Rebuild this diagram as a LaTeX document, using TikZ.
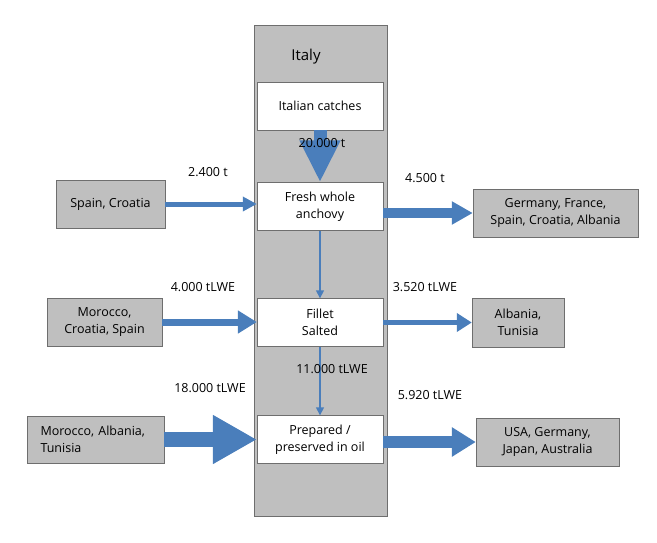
\documentclass[tikz,border=0pt]{standalone}
\usepackage{fontspec}
\setmainfont{Open Sans}
\usetikzlibrary{arrows.meta}

\definecolor{flowblue}{RGB}{74,126,187}
\definecolor{boxgray}{RGB}{191,191,191}
\definecolor{linegray}{RGB}{110,110,110}

\tikzset{
  country/.style={draw=linegray, fill=boxgray, align=center, inner sep=0pt},
  stage/.style={draw=linegray, fill=white, align=center, inner sep=0pt,
    minimum width=126, minimum height=48},
  qty/.style={inner sep=0pt}
}

\begin{document}
\begin{tikzpicture}[x=1pt, y=-1pt, font=\fontsize{12.5}{17}\selectfont]
\useasboundingbox (0,0) rectangle (657,542);

% Italy column
\node[draw=linegray, fill=boxgray, minimum width=133, minimum height=491,
  anchor=north west, inner sep=0pt] (italy) at (254,25) {};
\node[qty, font=\fontsize{15}{17}\selectfont] (italylbl) at (306,57) {Italy};

% Stages inside Italy
\node[stage] (catch) at (320,106) {Italian catches};
\node[stage] (fresh) at (320,206.5) {Fresh whole\\anchovy};
\node[stage] (fillet) at (320,322.5) {Fillet\\Salted};
\node[stage] (oil) at (320,439.5) {Prepared /\\preserved in oil};

% Importing countries (left)
\node[country, minimum width=109, minimum height=48] (inA) at (110.5,204) {Spain, Croatia};
\node[country, minimum width=115, minimum height=48] (inB) at (104.5,322) {Morocco,\\Croatia, Spain};
\node[country, minimum width=137, minimum height=47, align=left, text width=110] (inC) at (95.5,439.5) {Morocco, Albania,\\Tunisia};

% Destination countries (right)
\node[country, minimum width=165, minimum height=48] (outA) at (555.5,213) {Germany, France,\\Spain, Croatia, Albania};
\node[country, minimum width=92, minimum height=49] (outB) at (518,322.5) {Albania,\\Tunisia};
\node[country, minimum width=143, minimum height=48] (outC) at (547.5,442) {USA, Germany,\\Japan, Australia};

% Flows along the chain
\draw[flowblue, line width=13, -{Triangle[width=38,length=42]}] (catch.south) -- (fresh.north);
\draw[flowblue, line width=1.5, -{Triangle[width=8,length=8]}] (fresh.south) -- (fillet.north);
\draw[flowblue, line width=1.5, -{Triangle[width=8,length=8]}] (fillet.south) -- (oil.north);

% Imports
\draw[flowblue, line width=5, -{Triangle[width=14,length=14]}] (inA.east) -- (inA.east -| fresh.west);
\draw[flowblue, line width=7, -{Triangle[width=22,length=19]}] (inB.east) -- (inB.east -| fillet.west);
\draw[flowblue, line width=15, -{Triangle[width=46,length=44]}] (inC.east) -- (inC.east -| oil.west);

% Exports
\draw[flowblue, line width=10, -{Triangle[width=22,length=21]}] (outA.west -| fresh.east) -- (outA.west);
\draw[flowblue, line width=5, -{Triangle[width=18,length=15]}] (outB.west -| fillet.east) -- (outB.west);
\draw[flowblue, line width=12, -{Triangle[width=28,length=24]}] (outC.west -| oil.east) -- (outC.west);

% Quantities
\node[qty] (qcatch) at (322,143) {20.000 t};
\node[qty] (qinA) at (208,172) {2.400 t};
\node[qty] (qoutA) at (425,178) {4.500 t};
\node[qty] (qinB) at (203,287) {4.000 tLWE};
\node[qty] (qoutB) at (425,287) {3.520 tLWE};
\node[qty] (qfillet) at (332,369) {11.000 tLWE};
\node[qty] (qinC) at (210,388) {18.000 tLWE};
\node[qty] (qoutC) at (430,395) {5.920 tLWE};

\end{tikzpicture}
\end{document}
